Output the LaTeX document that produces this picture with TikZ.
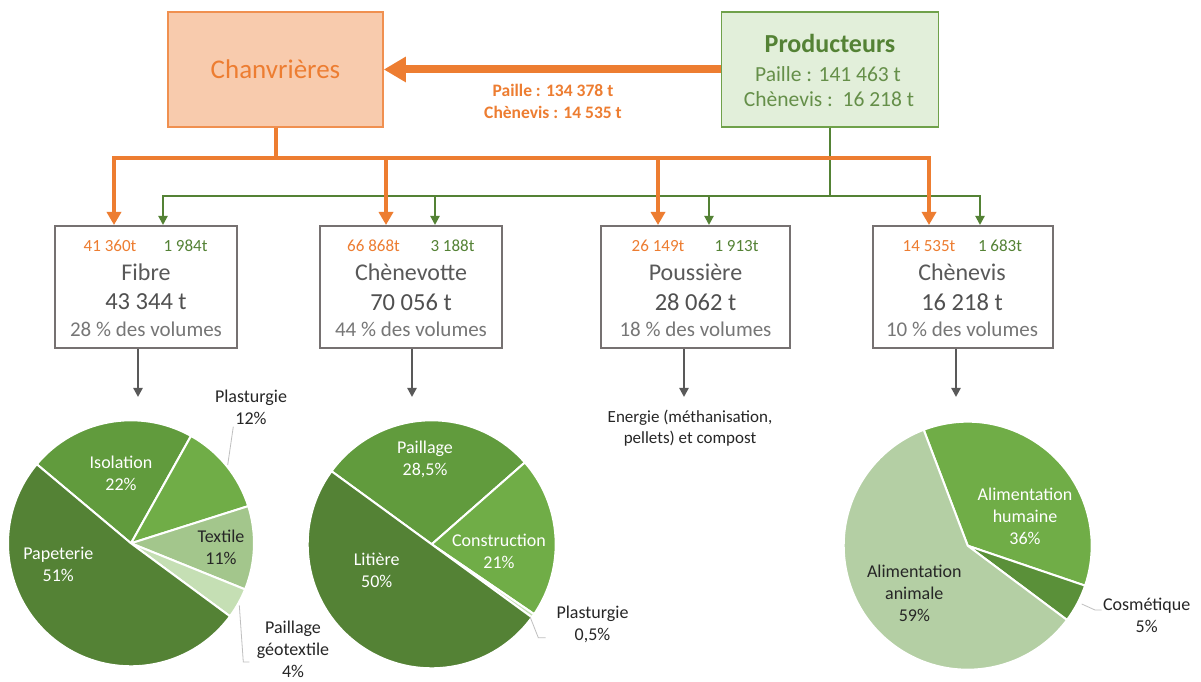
\documentclass[tikz,border=0pt]{standalone}
\usepackage{fontspec}
\setmainfont{Carlito}
\usepackage{tikz}
\usetikzlibrary{arrows.meta,positioning}
\definecolor{hemporange}{HTML}{ED7D31}
\definecolor{hempsalmon}{HTML}{F8CBAD}
\definecolor{hempgreen}{HTML}{548235}
\definecolor{hempmint}{HTML}{E2EFDA}
\definecolor{hempframe}{HTML}{6FA14A}
\definecolor{boxgrey}{HTML}{767171}
\definecolor{inkgrey}{HTML}{595959}
\definecolor{softgrey}{HTML}{767676}
\definecolor{leafdark}{HTML}{548235}
\definecolor{leafmid}{HTML}{619B3D}
\definecolor{leafbright}{HTML}{70AD47}
\definecolor{leafpale}{HTML}{A3C68C}
\definecolor{leafmist}{HTML}{C5DFB4}
\definecolor{leafsage}{HTML}{B4CFA4}
\definecolor{leafmoss}{HTML}{5A9039}
\definecolor{nearblack}{HTML}{262626}
\definecolor{leadgrey}{HTML}{BFBFBF}
\tikzset{
  % acteurs
  chanvbox/.style={draw=hemporange!85,fill=hempsalmon,line width=1.5pt,minimum width=215pt,
                   minimum height=115pt,inner sep=0pt,text=hemporange,font=\fontsize{27}{32}\selectfont},
  prodbox/.style={draw=hempframe,fill=hempmint,line width=1.5pt,minimum width=217pt,
                  minimum height=115pt,inner sep=0pt},
  prodname/.style={text=hempgreen,font=\bfseries\fontsize{26}{31}\selectfont,inner sep=0pt},
  prodqty/.style={text=hempgreen!90,font=\fontsize{21.5}{26}\selectfont,inner sep=0pt},
  flowlbl/.style={text=hemporange,font=\bfseries\fontsize{17.5}{22}\selectfont,align=center,inner sep=0pt},
  % produits
  stock/.style={draw=boxgrey,line width=2pt,fill=white,minimum height=122pt,inner sep=0pt},
  ttl/.style={text=inkgrey,font=\fontsize{24}{28}\selectfont,inner sep=0pt},
  qty/.style={text=inkgrey!90!black,font=\fontsize{24.5}{28}\selectfont,inner sep=0pt},
  sharelbl/.style={text=softgrey,font=\fontsize{21}{25}\selectfont,inner sep=0pt},
  fromch/.style={text=hemporange,font=\fontsize{17}{20}\selectfont,inner sep=0pt},
  fromprod/.style={text=hempgreen,font=\fontsize{17}{20}\selectfont,inner sep=0pt},
  % flux
  bigflow/.style={-{Triangle[length=22pt,width=24pt]},draw=hemporange,line width=8pt},
  oflow/.style={-{Triangle[length=13pt,width=14pt]},draw=hemporange,line width=4pt},
  gflow/.style={-{Triangle[length=9pt,width=9pt]},draw=hempgreen,line width=2pt},
  usearrow/.style={-{Triangle[length=9pt,width=9pt]},draw=inkgrey,line width=2.5pt},
  % camemberts
  slice/.style={draw=white,line width=2pt,line join=round},
  pielbl/.style={font=\fontsize{18}{22}\selectfont,align=center,inner sep=0pt},
  onpie/.style={pielbl,text=white},
  offpie/.style={pielbl,text=nearblack},
  leader/.style={draw=leadgrey,line width=0.8pt},
}
\begin{document}
\begin{tikzpicture}[x=1pt,y=1pt]
  \path[use as bounding box,fill=white] (0,0) rectangle (1201,682);
  % acteurs
  \node[chanvbox] (chanv) at (275.5,612.5) {Chanvrières};
  \node[prodbox] (prod) at (830,612.5) {};
  \node[prodname] (prodn) at (830,639) {Producteurs};
  \node[prodqty] (prodp) at (828,608) {Paille : 141 463 t};
  \node[prodqty] (prodc) at (829,583) {Chènevis :\ \ 16 218 t};
  \draw[bigflow] (prod.west) -- (chanv.east);
  \node[flowlbl] (flow) at (553,581) {Paille : 134 378 t\\Chènevis : 14 535 t};
  % produits
  \node[stock,minimum width=182pt] (fibre) at (146,395) {};
  \node[stock,minimum width=182pt] (chvt) at (411,395) {};
  \node[stock,minimum width=189pt] (pous) at (695.5,395) {};
  \node[stock,minimum width=180pt] (chnv) at (963,395) {};
  \node[fromch] (fibreo) at (110,436) {41 360t};
  \node[fromprod] (fibreg) at (185.5,436) {1 984t};
  \node[ttl] (fibret) at (146,410) {Fibre};
  \node[qty] (fibreq) at (146,380) {43 344 t};
  \node[sharelbl] (fibres) at (146,353) {28 \% des volumes};
  \node[fromch] (chvto) at (373.5,436) {66 868t};
  \node[fromprod] (chvtg) at (452.5,436) {3 188t};
  \node[ttl] (chvtt) at (411,410) {Chènevotte};
  \node[qty] (chvtq) at (411,380) {70 056 t};
  \node[sharelbl] (chvts) at (411,353) {44 \% des volumes};
  \node[fromch] (pouso) at (658,436) {26 149t};
  \node[fromprod] (pousg) at (736.5,436) {1 913t};
  \node[ttl] (poust) at (695.5,410) {Poussière};
  \node[qty] (pousq) at (695.5,380) {28 062 t};
  \node[sharelbl] (pouss) at (695.5,353) {18 \% des volumes};
  \node[fromch] (chnvo) at (929,436) {14 535t};
  \node[fromprod] (chnvg) at (1000,436) {1 683t};
  \node[ttl] (chnvt) at (962,410) {Chènevis};
  \node[qty] (chnvq) at (962,380) {16 218 t};
  \node[sharelbl] (chnvs) at (962,353) {10 \% des volumes};
  % flux vers les produits
  \coordinate (gb1) at (163,486);
  \coordinate (gb2) at (435,486);
  \coordinate (gb3) at (709,486);
  \coordinate (gb4) at (980,486);
  \draw[gflow] (prod.south) |- (gb1) -- (gb1 |- fibre.north);
  \draw[gflow] (prod.south) |- (gb2) -- (gb2 |- chvt.north);
  \draw[gflow] (prod.south) |- (gb3) -- (gb3 |- pous.north);
  \draw[gflow] (prod.south) |- (gb4) -- (gb4 |- chnv.north);
  \coordinate (ob1) at (114,524);
  \coordinate (ob2) at (386,524);
  \coordinate (ob3) at (658,524);
  \coordinate (ob4) at (929,524);
  \draw[oflow] (chanv.south) |- (ob1) -- (ob1 |- fibre.north);
  \draw[oflow] (chanv.south) |- (ob2) -- (ob2 |- chvt.north);
  \draw[oflow] (chanv.south) |- (ob3) -- (ob3 |- pous.north);
  \draw[oflow] (chanv.south) |- (ob4) -- (ob4 |- chnv.north);
  % usages
  \coordinate (fu) at (138,285);
  \coordinate (cu) at (412,285);
  \coordinate (pu) at (684,285);
  \coordinate (su) at (956,285);
  \draw[usearrow] (fibre.south -| fu) -- (fu);
  \draw[usearrow] (chvt.south -| cu) -- (cu);
  \draw[usearrow] (pous.south -| pu) -- (pu);
  \draw[usearrow] (chnv.south -| su) -- (su);
  \node[offpie,font=\fontsize{17}{21}\selectfont] (energie) at (690,253.5)
    {Energie (méthanisation,\\pellets) et compost};
  % camembert fibre
  \coordinate (pf) at (131,138.7);
  \filldraw[slice,fill=leafmid] (pf) -- ++(140:123) arc[start angle=140,end angle=60.8,radius=123] -- cycle;
  \filldraw[slice,fill=leafbright] (pf) -- ++(60.8:123) arc[start angle=60.8,end angle=17.6,radius=123] -- cycle;
  \filldraw[slice,fill=leafpale] (pf) -- ++(17.6:123) arc[start angle=17.6,end angle=-22,radius=123] -- cycle;
  \filldraw[slice,fill=leafmist] (pf) -- ++(-22:123) arc[start angle=-22,end angle=-36.4,radius=123] -- cycle;
  \filldraw[slice,fill=leafdark] (pf) -- ++(-36.4:123) arc[start angle=-36.4,end angle=-220,radius=123] -- cycle;
  \node[onpie] (isol) at (121,208.7) {Isolation\\22\%};
  \node[onpie] (pape) at (58.3,117.3) {Papeterie\\51\%};
  \node[offpie] (text) at (221,134.8) {Textile\\11\%};
  \node[offpie] (plasf) at (251,274.8) {Plasturgie\\12\%};
  \node[offpie] (geot) at (293,33) {Paillage\\géotextile\\4\%};
  \coordinate (lpa) at (233.3,255.3);
  \coordinate (lpb) at (227.7,217);
  \draw[leader] (lpa) -- (lpb);
  \coordinate (lga) at (239.3,76.7);
  \coordinate (lgb) at (243.3,20);
  \coordinate (lgc) at (249.3,20);
  \draw[leader] (lga) -- (lgb) -- (lgc);
  % camembert chenevotte
  \coordinate (pc) at (431.7,137.7);
  \filldraw[slice,fill=leafmid] (pc) -- ++(143.9:124) arc[start angle=143.9,end angle=41.3,radius=124] -- cycle;
  \filldraw[slice,fill=leafbright] (pc) -- ++(41.3:124) arc[start angle=41.3,end angle=-34.3,radius=124] -- cycle;
  \filldraw[slice,fill=leafmist] (pc) -- ++(-34.3:124) arc[start angle=-34.3,end angle=-36.1,radius=124] -- cycle;
  \filldraw[slice,fill=leafdark] (pc) -- ++(-36.1:124) arc[start angle=-36.1,end angle=-216.1,radius=124] -- cycle;
  \node[onpie] (pail) at (425,222.8) {Paillage\\28,5\%};
  \node[onpie] (cons) at (499,130.2) {Construction\\21\%};
  \node[onpie] (liti) at (376.7,111.2) {Litière\\50\%};
  \node[offpie] (plasc) at (592.5,58) {Plasturgie\\0,5\%};
  \coordinate (lca) at (530,65.3);
  \coordinate (lcb) at (538.3,44.3);
  \coordinate (lcc) at (545.7,44.3);
  \draw[leader] (lca) -- (lcb) -- (lcc);
  % camembert chenevis
  \coordinate (ps) at (967.7,136.3);
  \filldraw[slice,fill=leafbright] (ps) -- ++(110.8:124) arc[start angle=110.8,end angle=-18.8,radius=124] -- cycle;
  \filldraw[slice,fill=leafmoss] (ps) -- ++(-18.8:124) arc[start angle=-18.8,end angle=-36.8,radius=124] -- cycle;
  \filldraw[slice,fill=leafsage] (ps) -- ++(-36.8:124) arc[start angle=-36.8,end angle=-249.2,radius=124] -- cycle;
  \node[onpie] (hum) at (1025,165.6) {Alimentation\\humaine\\36\%};
  \node[offpie] (ani) at (914.3,88.9) {Alimentation\\animale\\59\%};
  \node[offpie] (cosm) at (1146.7,66.7) {Cosmétique\\5\%};
  \coordinate (lsa) at (1081.7,78);
  \coordinate (lsb) at (1095,72);
  \coordinate (lsc) at (1101.7,72);
  \draw[leader] (lsa) -- (lsb) -- (lsc);
\end{tikzpicture}
\end{document}
